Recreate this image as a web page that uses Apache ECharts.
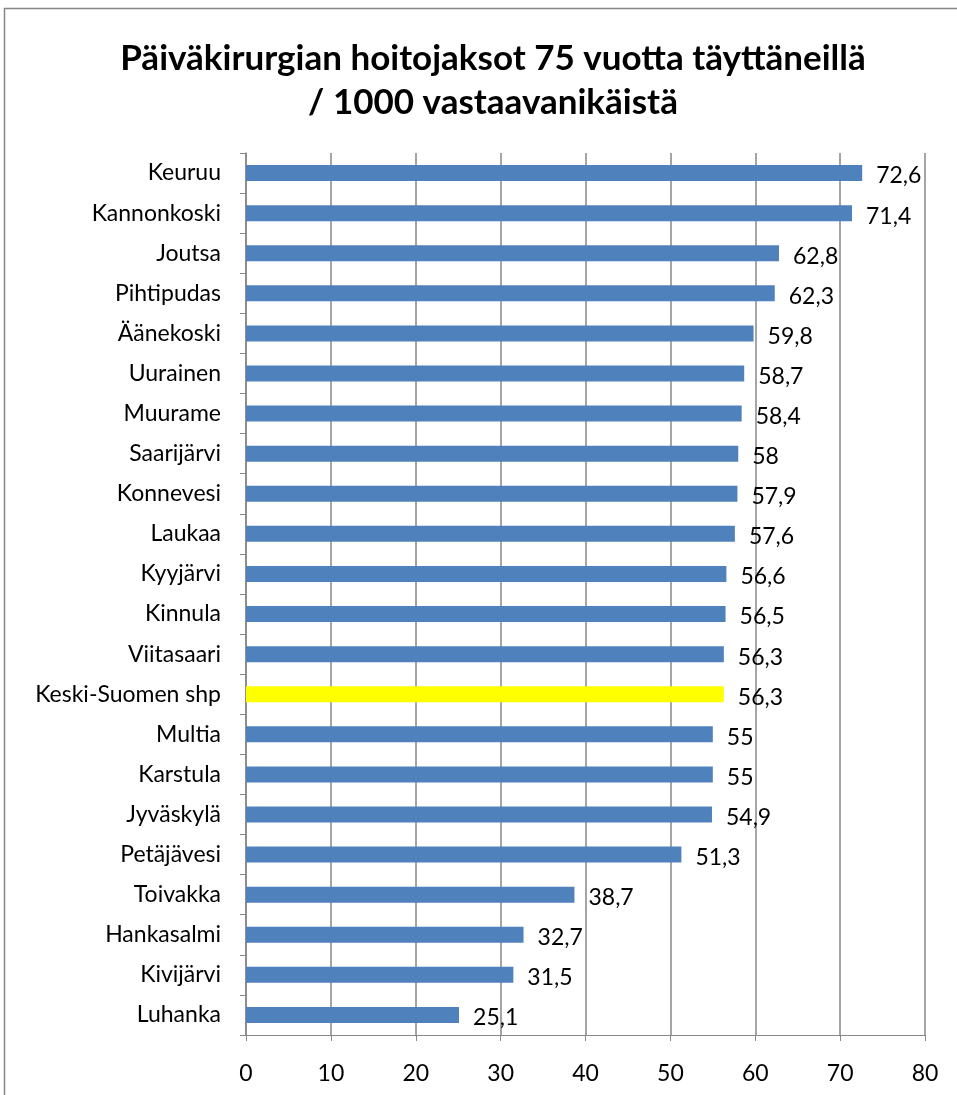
<!DOCTYPE html>
<html>
<head>
<meta charset="utf-8">
<script src="https://cdn.jsdelivr.net/npm/echarts@6/dist/echarts.min.js"></script>
<style>
    html, body { margin: 0; padding: 0; background: #fff; }
    #chart { width: 957px; height: 1095px; }
</style>
</head>
<body>
<div id="chart"></div>
<script>
// kunnat ylhäältä alas
var kunnat = ['Keuruu', 'Kannonkoski', 'Joutsa', 'Pihtipudas', 'Äänekoski', 'Uurainen',
    'Muurame', 'Saarijärvi', 'Konnevesi', 'Laukaa', 'Kyyjärvi', 'Kinnula', 'Viitasaari',
    'Keski-Suomen shp', 'Multia', 'Karstula', 'Jyväskylä', 'Petäjävesi', 'Toivakka',
    'Hankasalmi', 'Kivijärvi', 'Luhanka'];
var arvot = [72.6, 71.4, 62.8, 62.3, 59.8, 58.7, 58.4, 58, 57.9, 57.6, 56.6, 56.5, 56.3,
    56.3, 55, 55, 54.9, 51.3, 38.7, 32.7, 31.5, 25.1];
var korostus = 'Keski-Suomen shp';

var fontti = 'Lato, "Open Sans", sans-serif';

var data = [];
for (var i = 0; i < kunnat.length; i++) {
    var item = {value: arvot[i]};
    if (kunnat[i] === korostus) {
        item.itemStyle = {color: '#ffff00'};
    }
    data.push(item);
}

var myChart = echarts.init(document.getElementById('chart'), null, {renderer: 'canvas'});
var option = {
    animation: false,
    title: {
        text: 'Päiväkirurgian hoitojaksot 75 vuotta täyttäneillä\n/ 1000 vastaavanikäistä',
        left: 488,
        textAlign: 'center',
        top: 32,
        textStyle: {
            fontFamily: fontti,
            fontWeight: 'bold',
            fontSize: 35,
            lineHeight: 44,
            color: '#000'
        }
    },
    graphic: [{
        type: 'rect',
        shape: {x: 4.5, y: 8.5, width: 980, height: 1100},
        style: {fill: 'none', stroke: '#868686', lineWidth: 1.5},
        silent: true
    }],
    grid: {
        left: 246,
        right: 32,
        top: 153,
        bottom: 60
    },
    xAxis: {
        type: 'value',
        min: 0,
        max: 80,
        interval: 10,
        axisLine: {show: true, lineStyle: {color: '#878787'}},
        axisTick: {show: true, length: 6, lineStyle: {color: '#878787'}},
        splitLine: {show: true, lineStyle: {color: '#878787', width: 1.5}},
        axisLabel: {
            color: '#000',
            fontFamily: fontti,
            fontSize: 23,
            margin: 27
        }
    },
    yAxis: {
        type: 'category',
        inverse: true,
        data: kunnat,
        axisLine: {show: true, lineStyle: {color: '#878787', width: 1.5}},
        axisTick: {show: true, length: 6, lineStyle: {color: '#878787'}},
        axisLabel: {
            color: '#000',
            fontFamily: fontti,
            fontSize: 23,
            margin: 25
        }
    },
    series: [{
        type: 'bar',
        data: data,
        barWidth: 16,
        itemStyle: {color: '#4f81bd'},
        label: {
            show: true,
            position: 'right',
            distance: 14,
            color: '#000',
            fontFamily: fontti,
            fontSize: 23,
            offset: [0, 3],
            formatter: function (p) {
                return String(p.value).replace('.', ',');
            }
        }
    }]
};
myChart.setOption(option);
</script>
</body>
</html>
